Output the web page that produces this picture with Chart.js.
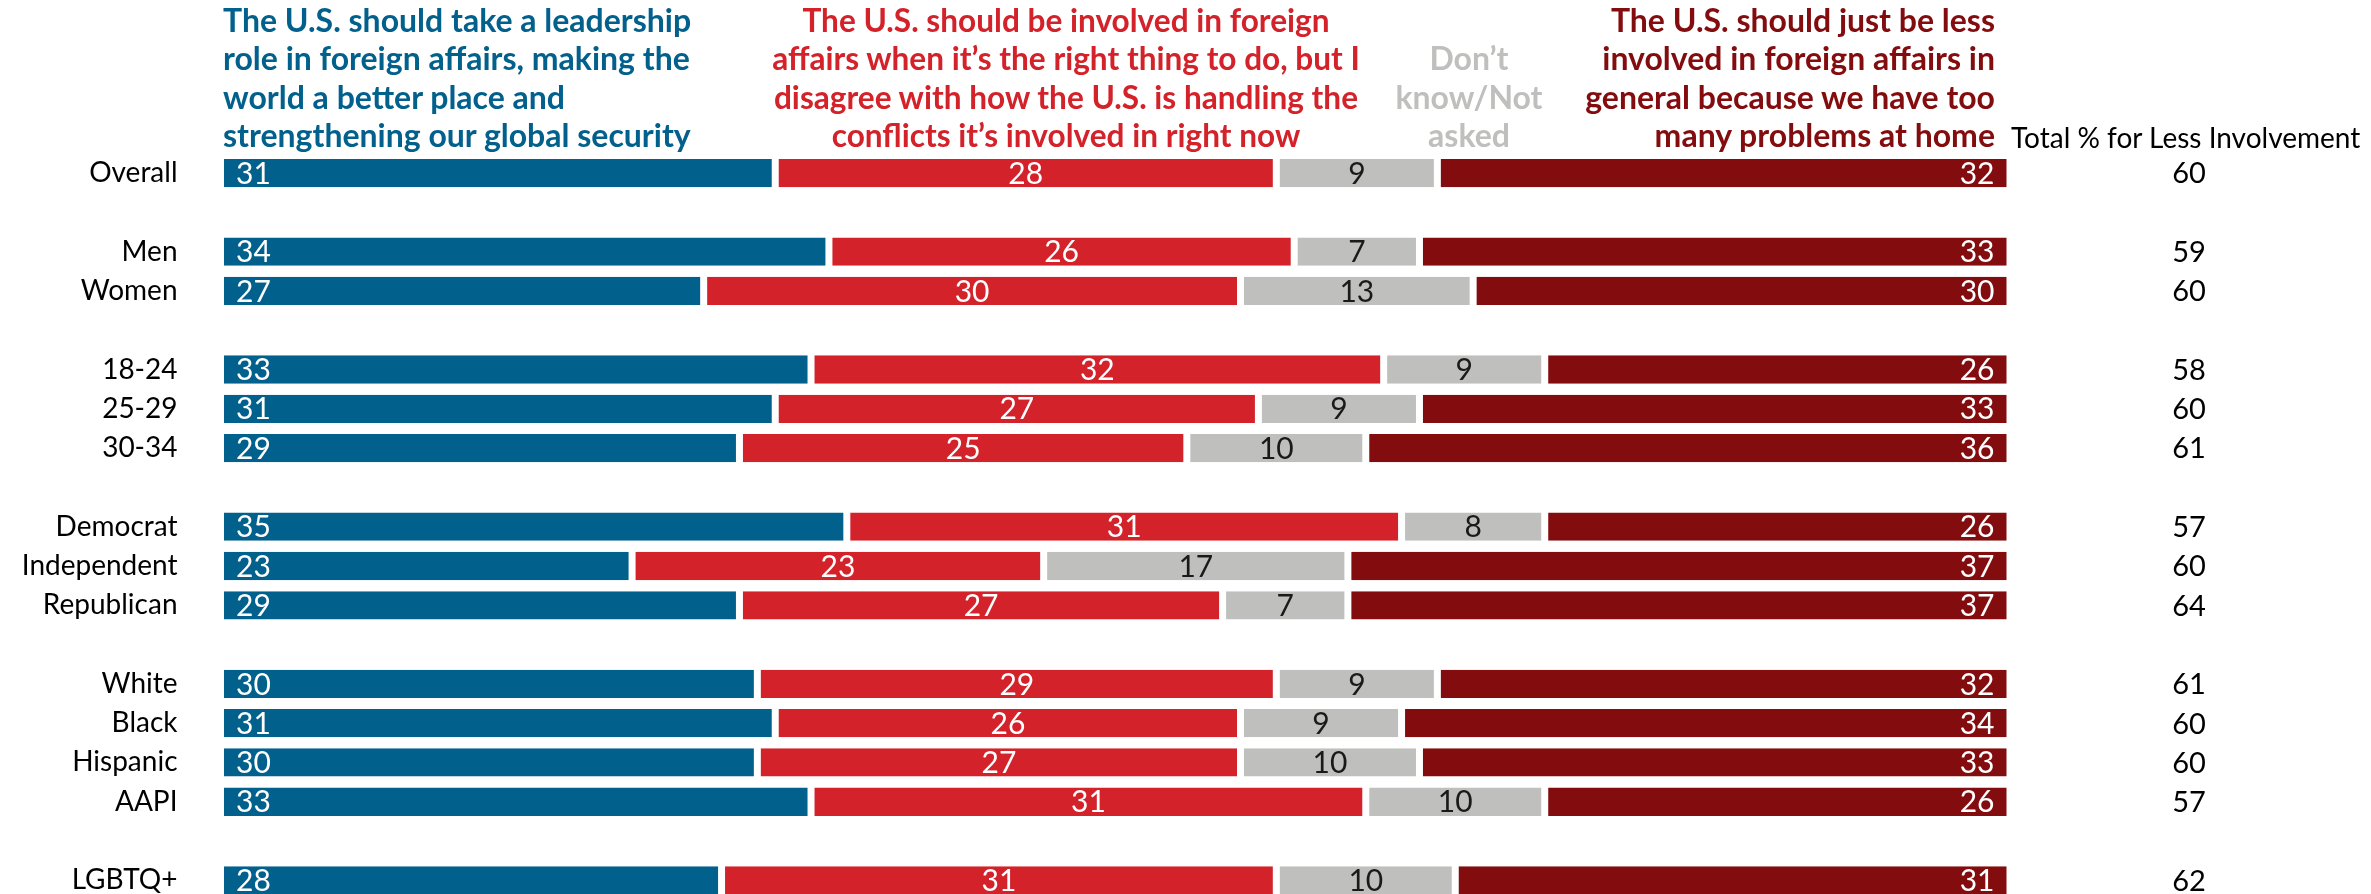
<!DOCTYPE html>
<html><head><meta charset="utf-8">
<script src="https://cdn.jsdelivr.net/npm/chart.js@4"></script>
<style>
html,body{margin:0;padding:0;background:#fff;width:2371px;height:894px;overflow:hidden;}
#wrap{position:relative;width:2371px;height:894px;overflow:hidden;}
canvas{position:absolute;left:0;top:0;}
.hdr{position:absolute;font-family:Lato,"Open Sans",sans-serif;font-weight:bold;font-size:32px;line-height:38.3px;white-space:nowrap;}
</style></head>
<body><div id="wrap"><canvas id="c" width="2371" height="920"></canvas></div>
<script>
const categories = ["Overall","","Men","Women","","18-24","25-29","30-34","","Democrat","Independent","Republican","","White","Black","Hispanic","AAPI","","LGBTQ+"];
const leadership       = [31,null,34,27,null,33,31,29,null,35,23,29,null,30,31,30,33,null,28];
const involvedDisagree = [28,null,26,30,null,32,27,25,null,31,23,27,null,29,26,27,31,null,31];
const dontKnow         = [9,null,7,13,null,9,9,10,null,8,17,7,null,9,9,10,10,null,10];
const lessInvolved     = [32,null,33,30,null,26,33,36,null,26,37,37,null,32,34,33,26,null,31];
const totalLess        = [60,null,59,60,null,58,60,61,null,57,60,64,null,61,60,60,57,null,62];
const seriesNames = [
  ["The U.S. should take a leadership","role in foreign affairs, making the","world a better place and","strengthening our global security"],
  ["The U.S. should be involved in foreign","affairs when it\u2019s the right thing to do, but I","disagree with how the U.S. is handling the","conflicts it\u2019s involved in right now"],
  ["Don\u2019t","know/Not","asked"],
  ["The U.S. should just be less","involved in foreign affairs in","general because we have too","many problems at home"]
];
const totalHeader = "Total % for Less Involvement";
const colors = ["#02618c","#d3222a","#bfbfbd","#830c0e"];

const FONT = 'Lato,"Open Sans",sans-serif';
const wrap = document.getElementById('wrap');
function addHdr(lines, style, color){
  const d = document.createElement('div');
  d.className='hdr';
  d.innerHTML = lines.map(l=>l.replace(/&/g,'&amp;')).join('<br>');
  d.style.cssText = style;
  d.style.color = color;
  wrap.appendChild(d);
}
addHdr(seriesNames[0], 'left:223px;top:1px;text-align:left;', colors[0]);
addHdr(seriesNames[1], 'left:1066px;top:1px;text-align:center;transform:translateX(-50%);font-size:31.6px;', colors[1]);
addHdr(seriesNames[2], 'left:1469px;top:39.3px;text-align:center;transform:translateX(-50%);', colors[2]);
addHdr(seriesNames[3], 'right:376px;top:1px;text-align:right;', colors[3]);
addHdr([totalHeader], 'left:2011px;top:120px;font-weight:normal;font-size:28px;line-height:34px;', '#000');

const valuePlugin = {
  id:'vals',
  afterDatasetsDraw(chart){
    const ctx = chart.ctx;
    ctx.save();
    ctx.font = '30px ' + FONT;
    ctx.textBaseline = 'middle';
    chart.data.datasets.forEach((ds,di)=>{
      const meta = chart.getDatasetMeta(di);
      meta.data.forEach((bar,i)=>{
        const v = ds.data[i]; if(v==null) return;
        const left = Math.min(bar.x,bar.base), right = Math.max(bar.x,bar.base);
        let x, align;
        if(di===0){x = left+15.5; align='left';}
        else if(di===3){x = right-15.5; align='right';}
        else {x = (left+right)/2; align='center';}
        ctx.textAlign = align;
        ctx.fillStyle = di===2 ? '#1a1a1a' : '#ffffff';
        ctx.fillText(String(v), x, bar.y+1);
      });
    });
    ctx.font = '29px ' + FONT;
    ctx.fillStyle = '#000';
    ctx.textAlign = 'center';
    const y = chart.scales.y;
    totalLess.forEach((t,i)=>{ if(t==null) return; ctx.fillText(String(t), 2189, y.getPixelForValue(i)+1); });
    ctx.restore();
  }
};

const bw = {left:3.5,right:3.5,top:0,bottom:0};
const mk = (label,data,color)=>({label,data,backgroundColor:color,borderColor:'#ffffff',borderWidth:bw,borderSkipped:false,barPercentage:0.72,categoryPercentage:1});

new Chart(document.getElementById('c'),{
  type:'bar',
  data:{labels:categories,datasets:[
    mk(seriesNames[0].join(' '),leadership,colors[0]),
    mk(seriesNames[1].join(' '),involvedDisagree,colors[1]),
    mk(seriesNames[2].join(' '),dontKnow,colors[2]),
    mk(seriesNames[3].join(' '),lessInvolved,colors[3])
  ]},
  options:{
    indexAxis:'y',responsive:false,animation:false,devicePixelRatio:1,
    layout:{padding:{top:153.4,bottom:20,left:0,right:361}},
    plugins:{legend:{display:false},tooltip:{enabled:false}},
    scales:{
      x:{stacked:true,min:0,max:100,display:false},
      y:{stacked:true,grid:{display:false,drawTicks:false},border:{display:false},
         ticks:{color:'#000',padding:43,font:{family:FONT,size:28},autoSkip:false},
         afterFit(s){s.width=220.5;s.paddingTop=0;s.paddingBottom=0;}}
    }
  },
  plugins:[valuePlugin]
});
</script>
</body></html>
